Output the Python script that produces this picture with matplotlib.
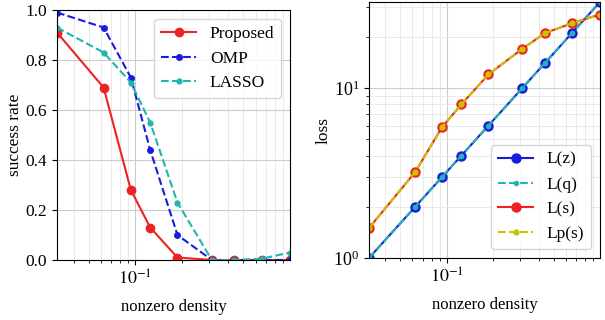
import matplotlib.pyplot as plt
import numpy as np

plt.rcParams['font.family'] = ['Liberation Serif', 'DejaVu Serif']
plt.rcParams['mathtext.fontset'] = 'stix'
plt.rcParams['font.size'] = 12

# Datos: k / 32 (densidad de no ceros)
k = np.array([1, 2, 3, 4, 6, 10, 14, 21, 32])
densidad = k / 32

exito_propuesto = [0.91, 0.69, 0.28, 0.13, 0.01, 0.0, 0.0, 0.0, 0.0]
exito_omp = [0.99, 0.93, 0.73, 0.44, 0.10, 0.0, 0.0, 0.0, 0.0]
exito_lasso = [0.93, 0.83, 0.71, 0.55, 0.23, 0.0, 0.0, 0.005, 0.03]

loss_z = [1, 2, 3, 4, 6, 10, 14, 21, 32]
loss_q = [1, 2, 3, 4, 6, 10, 14, 21, 32]
loss_s = [1.5, 3.2, 5.9, 8.0, 12.0, 17.0, 21.0, 24.0, 27.0]
loss_ps = [1.5, 3.2, 5.9, 8.0, 12.0, 17.0, 21.0, 24.0, 27.0]

ROJO = '#ee2222'
AZUL = '#1a1ae0'
TEAL = '#22b5ad'
AMARILLO = '#c8c400'

fig = plt.figure(figsize=(6.05, 3.2), dpi=100)

# Grafico izquierdo: tasa de exito
ax1 = fig.add_axes([57 / 605, 1 - 260 / 320, 233 / 605, 250 / 320])
ax1.plot(densidad, exito_propuesto, '-o', color=ROJO, markersize=6, label='Proposed')
ax1.plot(densidad, exito_omp, '--o', color=AZUL, markersize=4, label='OMP')
ax1.plot(densidad, exito_lasso, '--o', color=TEAL, markersize=3.5, label='LASSO')
ax1.set_xscale('log')
ax1.set_xlim(1 / 32, 1)
ax1.set_ylim(0, 1)
ax1.set_xticks([0.1])
ax1.set_xticklabels([r'$10^{-1}$'], fontsize=13)
ax1.set_yticks([0, 0.2, 0.4, 0.6, 0.8, 1.0])
ax1.tick_params(axis='y', labelsize=12.5)
ax1.grid(True, which='major', color='#cccccc', linewidth=0.8)
ax1.grid(True, which='minor', axis='x', color='#e6e6e6', linewidth=0.6)
ax1.set_xlabel('nonzero density', labelpad=7)
ax1.set_ylabel('success rate', fontsize=12.5, labelpad=2)
ax1.legend(loc='upper right', fontsize=12.5)

# Grafico derecho: perdida
ax2 = fig.add_axes([369 / 605, 1 - 258 / 320, 231 / 605, 256 / 320])
ax2.plot(densidad, loss_z, '-o', color=AZUL, markersize=6.5, label='L(z)')
ax2.plot(densidad, loss_q, '--o', color=TEAL, markersize=3, label='L(q)')
ax2.plot(densidad, loss_s, '-o', color=ROJO, markersize=6.5, label='L(s)')
ax2.plot(densidad, loss_ps, '--o', color=AMARILLO, markersize=3.5, label='Lp(s)')
ax2.set_xscale('log')
ax2.set_yscale('log')
ax2.set_xlim(1 / 32, 1)
ax2.set_ylim(1, 32)
ax2.set_xticks([0.1])
ax2.set_xticklabels([r'$10^{-1}$'], fontsize=13)
ax2.tick_params(axis='y', which='major', labelsize=13)
ax2.grid(True, which='major', color='#cccccc', linewidth=0.8)
ax2.grid(True, which='minor', color='#e6e6e6', linewidth=0.6)
ax2.set_xlabel('nonzero density', labelpad=7)
ax2.set_ylabel('loss', fontsize=12.5, labelpad=1)
ax2.legend(loc='lower right', fontsize=12.5)

plt.savefig('out.png', dpi=100)
plt.close()
